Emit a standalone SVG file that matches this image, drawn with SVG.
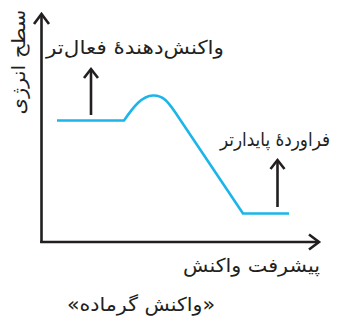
<svg xmlns="http://www.w3.org/2000/svg" width="354" height="321" viewBox="0 0 354 321">
<defs>
<style>
.ax{stroke:#231f20;stroke-width:2.6;fill:none}
.cv{stroke:#1cb5ea;stroke-width:2.6;fill:none;stroke-linejoin:round}
.t{font-family:"DejaVu Sans","Noto Sans",sans-serif;font-size:19px;fill:#231f20;text-anchor:middle}
.head{stroke:#231f20;stroke-width:2.6;fill:none;stroke-linecap:butt;stroke-linejoin:miter}
</style>
</defs>
<rect width="354" height="321" fill="#fff"/>
<g id="connectors">
<line class="ax" x1="41.5" y1="243" x2="41.5" y2="14"/>
<path class="head" d="M34,24 L41.5,14 L49,24"/>
<line class="ax" x1="40.2" y1="242" x2="319" y2="242"/>
<path class="head" d="M309,234.5 L319,242 L309,249.5"/>
<line class="ax" x1="91" y1="115" x2="91" y2="69"/>
<path class="head" d="M84,78 L91,69 L98,78"/>
<line class="ax" x1="277.5" y1="207" x2="277.5" y2="160"/>
<path class="head" d="M270.5,169 L277.5,160 L284.5,169"/>
</g>
<g id="curve">
<path class="cv" d="M57,120.5 L124,120.5 C134,106 142,96 153,95.5 C163,95 168,102 175,112 L243,213.5 L289,213.5"/>
</g>
<g id="label-y">
<text class="t" transform="translate(18,62) rotate(-90)" textLength="105" lengthAdjust="spacingAndGlyphs" dy="0.35em">سطح انرژی</text>
</g>
<g id="label-reactant">
<text class="t" x="135" y="54" textLength="178" lengthAdjust="spacingAndGlyphs">واکنش‌دهندهٔ فعال‌تر</text>
</g>
<g id="label-product">
<text class="t" x="275" y="146" textLength="110" lengthAdjust="spacingAndGlyphs">فراوردهٔ پایدارتر</text>
</g>
<g id="label-x">
<text class="t" x="251.5" y="272" textLength="137" lengthAdjust="spacingAndGlyphs">پیشرفت واکنش</text>
</g>
<g id="caption">
<text class="t" x="141" y="311" textLength="148" lengthAdjust="spacingAndGlyphs">«واکنش گرماده»</text>
</g>
</svg>
